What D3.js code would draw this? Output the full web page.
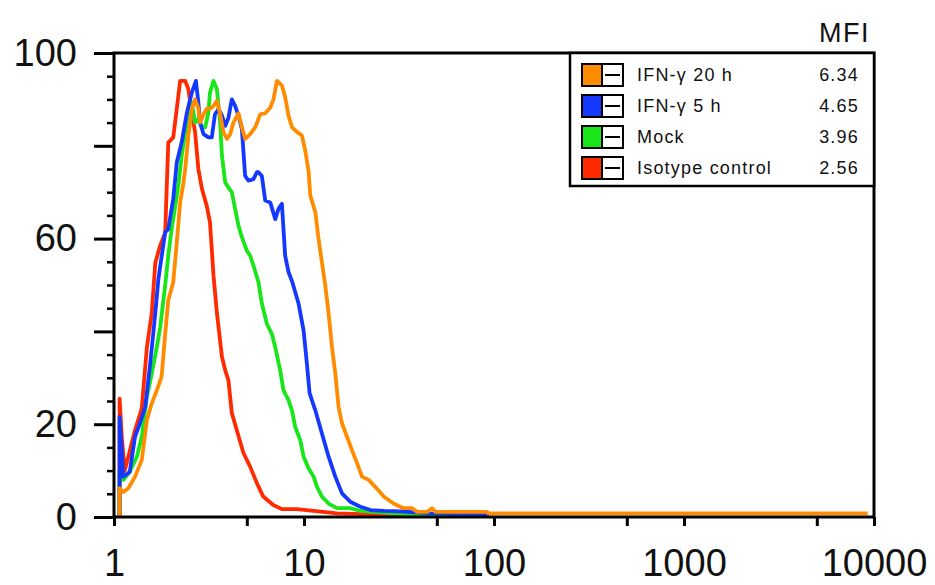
<!DOCTYPE html>
<html>
<head>
<meta charset="utf-8">
<script src="https://cdn.jsdelivr.net/npm/d3@7"></script>
<style>
  body { margin: 0; background: #fff; }
  svg { display: block; font-family: "Liberation Sans", Arial, Helvetica, sans-serif; }
</style>
</head>
<body>
<svg id="chart" width="935" height="585"></svg>
<script>
'use strict';

// histogram traces: [fluorescence, % of max]
const ifn20Curve = [
    [1.07, 0], [1.07, 6.2], [1.12, 5.4], [1.19, 6.2], [1.29, 8.7], [1.40, 12.3], [1.49, 20.9], [1.58, 24.5],
    [1.68, 27.3], [1.78, 30.2], [1.86, 39.5], [1.93, 46.7], [2.05, 50.6], [2.14, 59.2], [2.23, 67.8],
    [2.32, 72], [2.37, 75], [2.46, 82], [2.57, 88], [2.67, 90], [2.78, 88], [2.84, 85], [2.96, 86.8],
    [3.08, 88], [3.2, 88], [3.34, 88.6], [3.48, 89.7], [3.62, 86.8], [3.77, 82.9], [3.93, 81.5],
    [4.09, 82.5], [4.25, 85], [4.52, 87], [4.71, 84], [4.9, 81.5], [5.21, 82.5], [5.54, 84], [5.88, 86.8],
    [6.25, 87], [6.64, 88.2], [6.91, 90], [7.2, 94], [7.65, 93], [7.96, 90.5], [8.29, 86.5], [8.64, 84],
    [9.18, 83], [9.75, 82.2], [10.15, 79], [10.57, 74.5], [10.8, 69.2], [11.47, 65.7], [11.93, 59.9],
    [12.43, 54.9], [12.94, 49.9], [13.47, 43.9], [14.04, 36.6], [14.61, 31], [15.21, 23.7], [15.85, 20.2],
    [16.84, 17.3], [17.89, 14.4], [19.02, 11.6], [20.2, 8.7], [21.9, 8], [23.7, 6.5], [26.3, 4.4],
    [29.6, 2.9], [33.3, 1.9], [37.1, 1.9], [39.4, 1.1], [44.5, 1.1], [47.2, 1.9], [49.2, 1.1],
    [92, 1.1], [93, 0.8], [9260, 0.8]
];
const ifn5Curve = [
    [1.07, 0], [1.07, 21.6], [1.12, 8.7], [1.21, 9.7], [1.29, 17.3], [1.37, 20.2], [1.46, 23.7], [1.55, 33],
    [1.65, 44], [1.71, 51], [1.75, 54], [1.86, 61.4], [1.93, 62], [2.05, 68.6], [2.14, 76.4], [2.27, 80.7],
    [2.42, 87.2], [2.57, 91.5], [2.7, 94], [2.78, 89.3], [2.84, 85], [2.96, 82.5], [3.14, 81.8],
    [3.27, 81.8], [3.4, 86.8], [3.55, 87.9], [3.7, 86.5], [3.85, 84.3], [4.0, 86], [4.17, 90], [4.34, 88.6],
    [4.52, 86.5], [4.71, 83.6], [4.9, 73.5], [5.1, 72.5], [5.42, 72.8], [5.65, 74.3], [5.76, 74.3],
    [6.0, 73.5], [6.25, 68.2], [6.64, 67.8], [7.06, 64.2], [7.34, 66.4], [7.65, 67.5], [7.96, 56.3],
    [8.29, 52.8], [8.7, 50.5], [9.36, 46], [9.95, 40.2], [10.36, 33], [10.7, 26.7], [11.47, 23],
    [12.43, 18], [13.47, 13], [14.61, 8.7], [15.85, 5.1], [17.5, 3.3], [19.8, 2.2], [22.4, 1.5],
    [26.3, 1.3], [32.2, 1.2], [46.3, 0.8], [92, 0.5], [92, 0]
];
const mockCurve = [
    [1.07, 0], [1.07, 10], [1.12, 8], [1.21, 9.7], [1.32, 13], [1.40, 17.3], [1.49, 25.9], [1.58, 30.9],
    [1.68, 36.6], [1.75, 40.9], [1.82, 46.7], [1.86, 50], [1.93, 56.3], [2.01, 62], [2.1, 67], [2.18, 71.4],
    [2.27, 77.8], [2.37, 82.9], [2.46, 87.2], [2.57, 89.3], [2.67, 85], [2.78, 85.7], [2.9, 84], [3.02, 84],
    [3.14, 87.2], [3.2, 91.5], [3.34, 94], [3.48, 92.2], [3.62, 85], [3.7, 77.8], [3.85, 72.1], [4.0, 71],
    [4.17, 70], [4.34, 66.4], [4.52, 62.8], [4.71, 60.3], [5.0, 57.4], [5.21, 56.3], [5.42, 54.2],
    [5.76, 50.6], [6.0, 46], [6.38, 41.6], [6.78, 39.4], [7.06, 36.6], [7.49, 31.6], [7.8, 27.3],
    [8.29, 25.2], [8.64, 23], [8.99, 19.4], [9.55, 16.6], [9.95, 13], [10.57, 10.5], [11.23, 8.7],
    [11.7, 6.5], [12.43, 4.4], [13.47, 2.9], [14.9, 1.9], [17.5, 1.9], [19.8, 1.3], [30, 0.8],
    [45, 0.5], [62, 0.3], [62, 0]
];
const isotypeCurve = [
    [1.07, 0], [1.07, 25.5], [1.1, 17], [1.14, 10], [1.29, 18.7], [1.40, 23.4], [1.49, 36.6], [1.58, 43.9],
    [1.65, 54.8], [1.75, 58.5], [1.86, 61.3], [1.93, 80.7], [2.05, 81.8], [2.14, 88], [2.23, 94],
    [2.37, 94], [2.46, 92.3], [2.57, 87], [2.67, 83], [2.78, 75], [2.9, 70.8], [3.08, 67], [3.2, 63.5],
    [3.34, 52], [3.48, 44], [3.7, 34.5], [3.85, 31.6], [4.0, 29.5], [4.17, 22.4], [4.43, 18.7],
    [4.8, 13.8], [5.21, 10.8], [5.65, 7.3], [6.1, 4.4], [6.89, 2.6], [7.65, 1.7], [9.18, 1.7],
    [14.9, 0.8], [25, 0.5], [55, 0.3], [55, 0]
];

const seriesNames = ['IFN-\u03b3 20 h', 'IFN-\u03b3 5 h', 'Mock', 'Isotype control'];
const mfiValues = ['6.34', '4.65', '3.96', '2.56'];
const seriesColors = ['#ff8c00', '#1438ff', '#19e619', '#ff2a00'];
const seriesCurves = [ifn20Curve, ifn5Curve, mockCurve, isotypeCurve];

const xTickValues = [1, 10, 100, 1000, 10000];
const xMinorTicks = [5, 50, 500, 5000];
const yTickValues = [0, 20, 40, 60, 80, 100];
const yMinorTicks = [5, 10, 15, 25, 30, 35, 45, 50, 55, 65, 70, 75, 85, 90, 95];
const yTickLabels = [0, 20, 60, 100];

const margin = { top: 53, right: 61, bottom: 68, left: 114 };
const width = 935 - margin.left - margin.right;
const height = 585 - margin.top - margin.bottom;

const svg = d3.select('#chart')
    .append('g')
    .attr('transform', `translate(${margin.left},${margin.top})`);

const xScale = d3.scaleLog().domain([1, 10000]).range([0, width]);
const yScale = d3.scaleLinear().domain([0, 100]).range([height, 0]);

// traces first, frame drawn over them
const line = d3.line()
    .x((d) => xScale(d[0]))
    .y((d) => yScale(d[1]));

seriesCurves.slice().reverse().forEach((curve, i) => {
    svg.append('path')
        .datum(curve)
        .attr('fill', 'none')
        .attr('stroke', seriesColors[seriesCurves.length - 1 - i])
        .attr('stroke-width', 3.8)
        .attr('stroke-linejoin', 'round')
        .attr('d', line);
});

// y axis
const yAxis = svg.append('g')
    .call(d3.axisLeft(yScale)
        .tickValues(yTickValues)
        .tickSize(20)
        .tickPadding(17)
        .tickFormat((d) => (yTickLabels.includes(d) ? d : '')));
yAxis.select('.domain').remove();
yAxis.selectAll('line').attr('stroke-width', 3);

const yMinor = svg.append('g')
    .call(d3.axisLeft(yScale).tickValues(yMinorTicks).tickSize(7).tickFormat(''));
yMinor.select('.domain').remove();
yMinor.selectAll('line').attr('stroke-width', 2.5);

// x axis
const xAxis = svg.append('g')
    .attr('transform', `translate(0,${height})`)
    .call(d3.axisBottom(xScale)
        .tickValues(xTickValues)
        .tickSize(9)
        .tickPadding(23)
        .tickFormat(d3.format('d')));
xAxis.select('.domain').remove();
xAxis.selectAll('line').attr('stroke-width', 3);

const xMinor = svg.append('g')
    .attr('transform', `translate(0,${height})`)
    .call(d3.axisBottom(xScale).tickValues(xMinorTicks).tickSize(9).tickFormat(''));
xMinor.select('.domain').remove();
xMinor.selectAll('line').attr('stroke-width', 3);

svg.selectAll('.tick text')
    .attr('font-family', null)
    .attr('font-size', 38)
    .attr('fill', '#111');

svg.append('rect')
    .attr('x', 0).attr('y', 0)
    .attr('width', width).attr('height', height)
    .attr('fill', 'none')
    .attr('stroke', '#000')
    .attr('stroke-width', 3);

// legend box in the top right corner
const legend = svg.append('g').attr('transform', `translate(${width - 304},0)`);
legend.append('rect')
    .attr('width', 304).attr('height', 133)
    .attr('fill', '#fff')
    .attr('stroke', '#000')
    .attr('stroke-width', 2.5);

seriesNames.forEach((name, i) => {
    const row = legend.append('g').attr('transform', `translate(0,${22 + i * 31})`);
    row.append('rect')
        .attr('x', 12).attr('y', -11)
        .attr('width', 20).attr('height', 22)
        .attr('fill', seriesColors[i])
        .attr('stroke', '#000').attr('stroke-width', 2);
    row.append('rect')
        .attr('x', 32).attr('y', -11)
        .attr('width', 21).attr('height', 22)
        .attr('fill', '#fff')
        .attr('stroke', '#000').attr('stroke-width', 2);
    row.append('line')
        .attr('x1', 35).attr('x2', 50)
        .attr('y1', 0).attr('y2', 0)
        .attr('stroke', '#000').attr('stroke-width', 2);
    row.append('text')
        .attr('x', 67).attr('y', 6)
        .attr('font-size', 18)
        .attr('letter-spacing', 1.2)
        .attr('fill', '#111')
        .text(name);
    row.append('text')
        .attr('x', 289).attr('y', 6)
        .attr('text-anchor', 'end')
        .attr('font-size', 18)
        .attr('letter-spacing', 1.2)
        .attr('fill', '#111')
        .text(mfiValues[i]);
});

svg.append('text')
    .attr('x', width - 4).attr('y', -11)
    .attr('text-anchor', 'end')
    .attr('font-size', 27)
    .attr('letter-spacing', 1.5)
    .attr('fill', '#111')
    .text('MFI');
</script>
</body>
</html>
